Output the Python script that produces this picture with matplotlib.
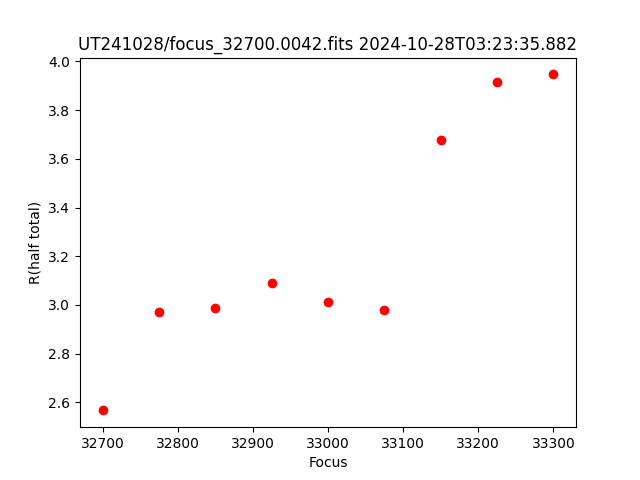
import matplotlib
matplotlib.use("Agg")
import matplotlib.pyplot as plt

focus = [32700, 32775, 32850, 32925, 33000, 33075, 33150, 33225, 33300]
r_half = [2.567, 2.970, 2.986, 3.089, 3.011, 2.978, 3.676, 3.914, 3.947]

fig, ax = plt.subplots(figsize=(6.4, 4.8), dpi=100)
ax.plot(focus, r_half, 'ro')
ax.set_xlabel("Focus")
ax.set_ylabel("R(half total)")
ax.set_title("UT241028/focus_32700.0042.fits 2024-10-28T03:23:35.882")
fig.savefig("out.png")
